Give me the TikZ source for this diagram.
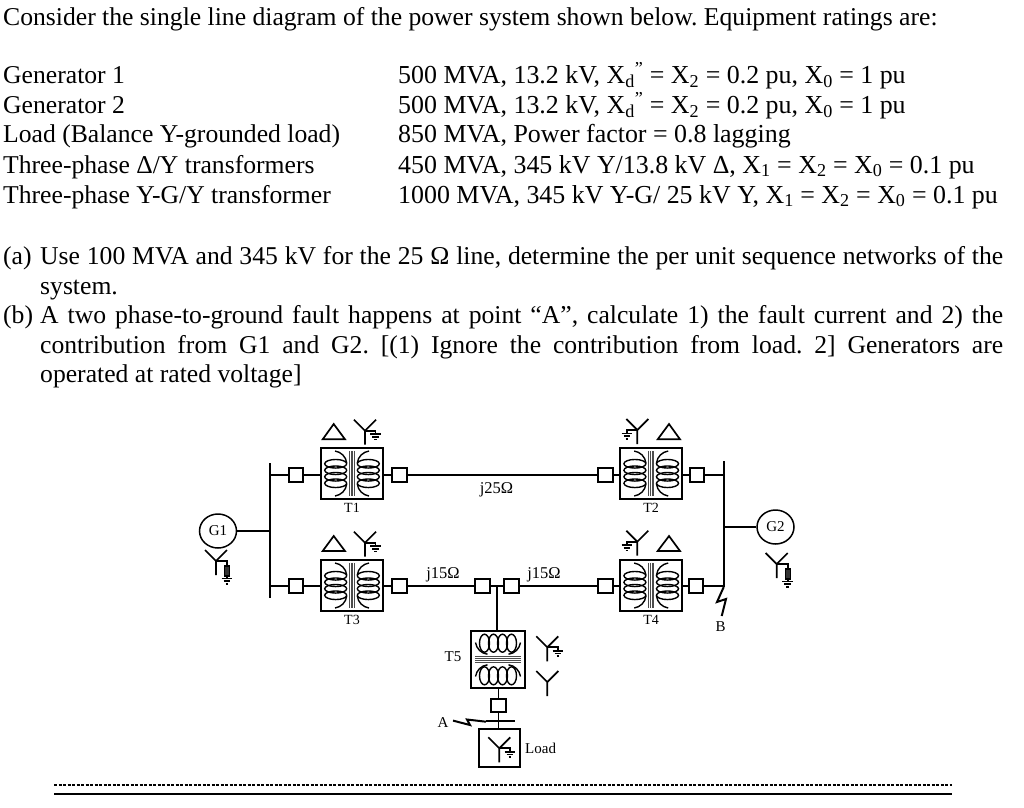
\documentclass[tikz,border=0pt]{standalone}
\usepackage{fontspec}
\setmainfont{Liberation Serif}
\usetikzlibrary{shapes.geometric,positioning}
\newcommand{\Xd}{X\textsubscript{d}\textsuperscript{”}}
\newcommand{\Xs}[1]{X\textsubscript{#1}}
\frenchspacing
\tikzset{
  txt/.style={anchor=base west, inner sep=0pt, font=\fontsize{25.65}{29.5}\selectfont},
  rate/.style={txt, font=\fontsize{25.9}{29.5}\selectfont},
  para/.style={anchor=north west, inner sep=0pt, text width=963pt, align=justify, font=\fontsize{25.65}{29.5}\selectfont},
  lbl/.style={inner sep=0pt, font=\fontsize{15}{17}\selectfont},
  tlbl/.style={inner sep=0pt, font=\fontsize{14}{16}\selectfont},
  wire/.style={line width=1.7pt},
  sym/.style={line width=1.7pt, line join=miter},
  bus/.style={line width=2.3pt},
  brk/.style={draw, line width=1.7pt, fill=white, inner sep=0pt, minimum width=14.5pt, minimum height=13.5pt},
  xfmr/.style={draw, line width=1.8pt, inner sep=0pt, minimum width=62pt, minimum height=51pt},
  gen/.style={draw, ellipse, line width=1.5pt, inner sep=0pt, minimum width=37pt, minimum height=34pt, font=\fontsize{15}{17}\selectfont},
  pics/wye/.style={code={
    \draw[sym] (-11,-11) -- (0,0) -- (11,-11) (0,0) -- (0,14);
  }},
  pics/earth/.style={code={
    \draw[sym] (-5.3,0) -- (5.3,0);
    \draw[sym] (-3.3,2.7) -- (3.3,2.7);
    \draw[sym] (-1.3,5.4) -- (1.3,5.4);
  }},
  pics/gwye/.style={code={
    \pic {wye};
    \draw[sym] (0,0) -- (10.5,0) -- (10.5,3.5);
    \pic at (10.5,3.5) {earth};
  }},
  pics/genwye/.style={code={
    \pic {wye};
    \draw[sym] (0,0) -- (11,0) -- (11,17.5);
    \draw[line width=1.2pt, fill=black!80] (8.4,5) rectangle (13.6,15);
    \pic at (11,17.5) {earth};
  }},
  %% two coils round a core, #1 = turn spacing, #2 and #3 = half axes of a turn
  pics/coil/.style n args={3}{code={
    \foreach \side in {-1,1} {
      \foreach \turn in {-1.5,-0.5,0.5,1.5}
        \draw[line width=1.4pt] (\side*16.3,\turn*#1) ellipse ({#2} and {#3});
      \draw[line width=1.4pt] (\side*17,-22.5) .. controls (\side*11,-21.5) and (\side*6,-17) .. (\side*5.3,-10.5);
      \draw[line width=1.4pt] (\side*17,22.5) .. controls (\side*11,21.5) and (\side*6,17) .. (\side*5.3,10.5);
    }
    \foreach \core in {-2.7,-0.9,0.9,2.7}
      \draw[line width=1.1pt, black!70] (\core,-22.7) -- (\core,22.7);
  }},
}
\begin{document}
\begin{tikzpicture}[x=1pt,y=-1pt]
  \useasboundingbox (0,0) rectangle (1024,807);

  %% problem text
  \node[txt] (intro) at (3,25.5) {Consider the single line diagram of the power system shown below. Equipment ratings are:};
  \node[txt] (nameA) at (3,83.5) {Generator 1};
  \node[txt] (nameB) at (3,113.5) {Generator 2};
  \node[txt] (nameC) at (3,142.5) {Load (Balance Y-grounded load)};
  \node[txt] (nameD) at (3,173) {Three-phase Δ/Y transformers};
  \node[txt] (nameE) at (3,203) {Three-phase Y-G/Y transformer};
  \node[rate] (rateA) at (398,83.5) {500 MVA, 13.2 kV, \Xd{} = \Xs{2} = 0.2 pu, \Xs{0} = 1 pu};
  \node[rate] (rateB) at (398,113.5) {500 MVA, 13.2 kV, \Xd{} = \Xs{2} = 0.2 pu, \Xs{0} = 1 pu};
  \node[rate] (rateC) at (398,142.5) {850 MVA, Power factor = 0.8 lagging};
  \node[rate] (rateD) at (398,173) {450 MVA, 345 kV Y/13.8 kV Δ, \Xs{1} = \Xs{2} = \Xs{0} = 0.1 pu};
  \node[rate] (rateE) at (398,203) {1000 MVA, 345 kV Y-G/ 25 kV Y, \Xs{1} = \Xs{2} = \Xs{0} = 0.1 pu};
  \node[txt] (markA) at (3,264) {(a)};
  \node[txt] (markB) at (3,323.5) {(b)};
  \node[para] (partA) at (40,246.5) {Use 100 MVA and 345 kV for the 25 Ω line, determine the per unit sequence networks of the\linebreak system.};
  \node[para] (partB) at (40,305.5) {A two phase-to-ground fault happens at point “A”, calculate 1) the fault current and 2) the\linebreak contribution from G1 and G2. [(1) Ignore the contribution from load. 2] Generators are\linebreak operated at rated voltage]};

  %% generators
  \node[gen] (G1) at (218,531) {G1};
  \node[gen] (G2) at (775.5,527) {G2};
  \pic at (216,561) {genwye};
  \pic at (776.7,564) {genwye};

  %% buses
  \coordinate (busLa) at (270,463);
  \coordinate (busLb) at (270,598);
  \coordinate (busRa) at (723.7,461);
  \coordinate (busRb) at (723.7,587);
  \draw[bus] (busLa) -- (busLb);
  \draw[bus] (busRa) -- (busRb);
  \draw[wire] (G1) -- (G1 -| busLa);
  \draw[wire] (G2) -- (G2 -| busRa);

  %% transformers
  \node[xfmr] (T1) at (352,473.5) {};
  \node[xfmr] (T2) at (651.2,473.5) {};
  \node[xfmr] (T3) at (352,585.5) {};
  \node[xfmr] (T4) at (651.2,585.5) {};
  \node[draw, line width=1.8pt, inner sep=0pt, minimum width=54pt, minimum height=57pt] (T5) at (498,659.5) {};
  \pic at (T1) {coil={6.5}{11}{4.3}};
  \pic at (T2) {coil={6.5}{11}{4.3}};
  \pic at (T3) {coil={6.5}{11}{4.3}};
  \pic at (T4) {coil={6.5}{11}{4.3}};
  \pic[rotate=90] at (T5) {coil={9}{9}{5}};
  \node[tlbl, below=3pt of T1] (T1lbl) {T1};
  \node[tlbl, below=3pt of T2] (T2lbl) {T2};
  \node[tlbl, below=3pt of T3] (T3lbl) {T3};
  \node[tlbl, below=3pt of T4] (T4lbl) {T4};
  \node[lbl] (T5lbl) at (453,657) {T5};

  %% breakers
  \node[brk] (b1) at (296,475) {};
  \node[brk] (b2) at (399.5,475) {};
  \node[brk] (b3) at (605.5,475) {};
  \node[brk] (b4) at (697,475) {};
  \node[brk] (b5) at (296,586) {};
  \node[brk] (b6) at (399.5,586) {};
  \node[brk] (b7) at (605.5,586) {};
  \node[brk] (b8) at (696,586) {};
  \node[brk] (b9) at (482.5,586) {};
  \node[brk] (b10) at (511.5,586) {};
  \node[brk] (b11) at (498.5,705.5) {};

  %% lines
  \draw[wire] (b1 -| busLa) -- (b1) -- (b1 -| T1.west);
  \draw[wire] (b2 -| T1.east) -- (b2) -- (b3) -- (b3 -| T2.west);
  \draw[wire] (b4 -| T2.east) -- (b4) -- (b4 -| busRa);
  \draw[wire] (b5 -| busLa) -- (b5) -- (b5 -| T3.west);
  \draw[wire] (b6 -| T3.east) -- (b6) -- (b9) -- (b10) -- (b7) -- (b7 -| T4.west);
  \draw[wire] (b8 -| T4.east) -- (b8) -- (b8 -| busRa);
  \coordinate (tee) at (497,586);
  \draw[wire] (tee) -- (tee |- T5.north);
  \node[lbl, font=\fontsize{16.5}{18}\selectfont] (lineA) at (496.5,490) {j25Ω};
  \node[lbl, font=\fontsize{16.5}{18}\selectfont] (lineB) at (443,575) {j15Ω};
  \node[lbl, font=\fontsize{16.5}{18}\selectfont] (lineC) at (544,575) {j15Ω};

  %% load bus and load
  \node[draw, line width=1.8pt, inner sep=0pt, minimum width=41pt, minimum height=38pt] (load) at (499.5,748) {};
  \coordinate (busAa) at (486,721);
  \coordinate (busAb) at (515,721);
  \draw[wire] (busAa) -- (busAb);
  \draw[wire] (T5.south -| b11) -- (b11) -- (b11 |- load.north);
  \node[lbl, anchor=west] (loadlbl) at (525,748.5) {Load};

  %% winding symbols
  \pic at (365,430.7) {gwye};
  \pic at (365,542.7) {gwye};
  \pic[xscale=-1] at (637.3,430) {gwye};
  \pic[xscale=-1] at (637.3,541.7) {gwye};
  \pic at (547.3,647.3) {gwye};
  \pic at (547.3,682) {wye};
  \pic at (499.3,748.3) {gwye};
  \draw[sym] (322.7,439.3) -- (345,439.3) -- (333.7,424) -- cycle;
  \draw[sym] (322.7,551) -- (345,551) -- (333.7,536) -- cycle;
  \draw[sym] (657.7,439.3) -- (680,439.3) -- (669,424) -- cycle;
  \draw[sym] (657.7,551) -- (680,551) -- (669,536) -- cycle;

  %% faults
  \draw[line width=2pt] (723.7,587) -- (717,602) -- (726,599) -- (721.7,616);
  \node[lbl] (faultB) at (720.7,627) {B};
  \draw[line width=2pt] (453,720.6) -- (470,725) -- (467,719.5) -- (486,721.7);
  \node[lbl] (faultA) at (443,723) {A};

  %% rules at the foot
  \coordinate (ruleAa) at (54,785);
  \coordinate (ruleAb) at (952,785);
  \coordinate (ruleBa) at (54,794.4);
  \coordinate (ruleBb) at (952,794.4);
  \draw[line width=2.2pt, dash pattern=on 3.4pt off 1.1pt] (ruleAa) -- (ruleAb);
  \draw[line width=2pt] (ruleBa) -- (ruleBb);
\end{tikzpicture}
\end{document}
